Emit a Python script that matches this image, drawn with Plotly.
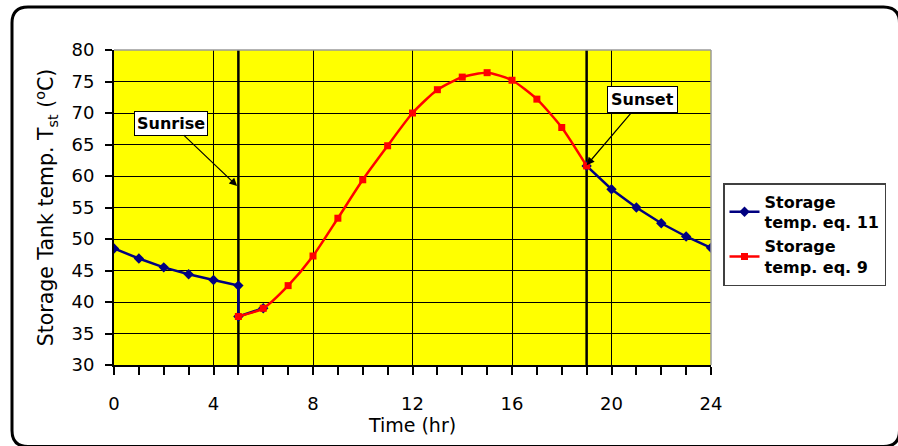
import plotly.graph_objects as go

# Data
blue_x = [0, 1, 2, 3, 4, 5, 5, 6]
blue_y = [48.5, 46.9, 45.5, 44.4, 43.5, 42.6, 37.7, 39.0]
blue_x2 = [19, 20, 21, 22, 23, 24]
blue_y2 = [61.6, 57.9, 55.0, 52.5, 50.4, 48.6]
red_x = [5, 6, 7, 8, 9, 10, 11, 12, 13, 14, 15, 16, 17, 18, 19]
red_y = [37.7, 39.0, 42.6, 47.3, 53.3, 59.4, 64.8, 70.0, 73.7, 75.7, 76.4, 75.2, 72.2, 67.7, 61.6]
sunrise_x = 5
sunset_x = 19
x_ticks = [0, 4, 8, 12, 16, 20, 24]
y_ticks = [30, 35, 40, 45, 50, 55, 60, 65, 70, 75, 80]

W, H = 898, 446
L, R, T, B = 114, 187, 50, 81
PW, PH = W - L - R, H - T - B

def px(xp):
    return (xp - L) / PW

def py(yp):
    return (H - B - yp) / PH

FONT = "DejaVu Sans"
BLUE = "#000080"
RED = "#FF0000"

fig = go.Figure()
fig.add_trace(go.Scatter(
    x=blue_x + [None] + blue_x2, y=blue_y + [None] + blue_y2,
    mode="lines+markers", name="Storage<br>temp. eq. 11",
    line=dict(color=BLUE, width=2.5),
    marker=dict(symbol="diamond", size=8, color=BLUE),
    connectgaps=False,
))
fig.add_trace(go.Scatter(
    x=red_x, y=red_y, mode="lines+markers", name="Storage<br>temp. eq. 9",
    line=dict(color=RED, width=2.5, shape="spline", smoothing=0.6),
    marker=dict(symbol="square", size=7, color=RED),
))

# thick vertical lines at sunrise / sunset
for xv in (sunrise_x, sunset_x):
    fig.add_shape(type="line", xref="x", yref="paper", x0=xv, x1=xv, y0=0, y1=1,
                  line=dict(color="black", width=2.5), layer="between")

# grey top / right plot border
fig.add_shape(type="line", xref="paper", yref="paper", x0=0, x1=1, y0=1, y1=1,
              line=dict(color="#9a9a9a", width=1.5), layer="above")
fig.add_shape(type="line", xref="paper", yref="paper", x0=1, x1=1, y0=0, y1=1,
              line=dict(color="#9a9a9a", width=1.5), layer="above")

# outer rounded frame
x0, x1, y0, y1 = px(12), px(899.5), py(7), py(446.5)
rx, ry = 16 / PW, 16 / PH
path = (f"M {x0+rx} {y0} L {x1-rx} {y0} Q {x1} {y0} {x1} {y0-ry} "
        f"L {x1} {y1+ry} Q {x1} {y1} {x1-rx} {y1} "
        f"L {x0+rx} {y1} Q {x0} {y1} {x0} {y1+ry} "
        f"L {x0} {y0-ry} Q {x0} {y0} {x0+rx} {y0} Z")
fig.add_shape(type="path", xref="paper", yref="paper", path=path,
              line=dict(color="black", width=3))

# annotations
fig.add_annotation(x=4.95, y=58.4, xref="x", yref="y", text="<b>Sunrise</b>",
                   showarrow=True, ax=-66, ay=-63, arrowhead=2, arrowsize=1.3,
                   arrowwidth=1.2, arrowcolor="black", bgcolor="white",
                   bordercolor="black", borderwidth=1, borderpad=2,
                   font=dict(family=FONT, size=16, color="black"))
fig.add_annotation(x=19.0, y=61.7, xref="x", yref="y", text="<b>Sunset</b>",
                   showarrow=True, ax=56, ay=-66, arrowhead=2, arrowsize=1.3,
                   arrowwidth=1.2, arrowcolor="black", bgcolor="white",
                   bordercolor="black", borderwidth=1, borderpad=3,
                   font=dict(family=FONT, size=16, color="black"))

fig.update_layout(
    width=W, height=H,
    margin=dict(l=L, r=R, t=T, b=B),
    paper_bgcolor="white", plot_bgcolor="#FFFF00",
    font=dict(family=FONT, size=18, color="black"),
    showlegend=True,
    legend=dict(x=px(723), y=py(183), xanchor="left", yanchor="top",
                bgcolor="white", bordercolor="#404040", borderwidth=1.5,
                font=dict(family=FONT, size=16, color="black", weight="bold"),
                tracegroupgap=0),
    xaxis=dict(range=[0, 24], tickvals=x_ticks, ticks="outside", ticklen=8,
               tickwidth=2, tickcolor="black", showline=True, linecolor="black",
               linewidth=2, showgrid=True, gridcolor="black", gridwidth=1,
               zeroline=False, ticklabelstandoff=13,
               minor=dict(dtick=1, ticks="outside", ticklen=8, tickwidth=2,
                          tickcolor="black", showgrid=False),
               title=dict(text="Time (hr)", standoff=0,
                          font=dict(family=FONT, size=19))),
    yaxis=dict(range=[30, 80], tickvals=y_ticks, ticks="outside", ticklen=7,
               tickwidth=2, tickcolor="black", showline=True, linecolor="black",
               linewidth=2, showgrid=True, gridcolor="black", gridwidth=1,
               zeroline=False, ticklabelstandoff=7,
               title=dict(text="Storage Tank temp. T<sub>st</sub> (<sup>o</sup>C)",
                          standoff=12, font=dict(family=FONT, size=20.5))),
)

fig.write_html("out.html", config={"displayModeBar": False},
               post_script="document.body.style.margin='0';document.body.style.overflow='hidden';")
